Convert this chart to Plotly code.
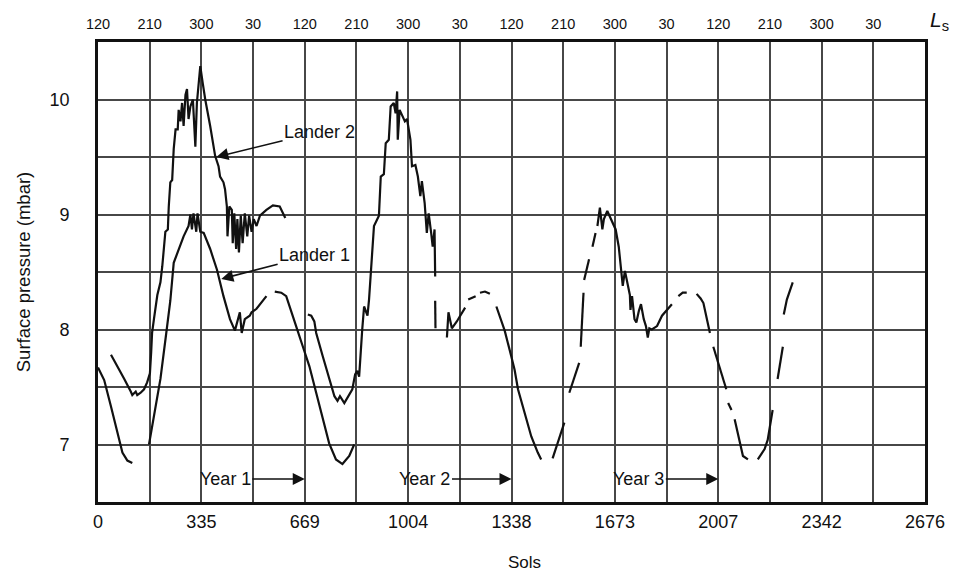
import plotly.graph_objects as go

# Surface pressure at the two Viking landers over three Mars years.
# None marks a break in the record (the trace is drawn with gaps there).

QUARTER = 669 / 4          # sols between successive Ls grid lines
N_QUARTERS = 16

sol_ticks = ["0", "335", "669", "1004", "1338", "1673", "2007", "2342", "2676"]
ls_ticks = ["120", "210", "300", "30"] * 4
pressure_ticks = [7, 8, 9, 10]

lander1_sol = [
    0, 20, 42, 63, 79, 95, 111, None,
    165, 181, 202, 220, 234, 245, 261, 277, 293, 299, 304, 309, 318, 322, 331, 342,
    363, 385, 406, 427, 443, 449, 459, 465, 475, 491, 497, 513, 529, 545, None,
    572, 593, 609, 631, 641, 663, 684, 706, 727, 748, 770, 791, 813, 829, None,
    1091, 1092, None,
    1129, 1134, 1145, 1161, 1188, None,
    1198, 1222, None,
    1236, 1252, 1268, None,
    1289, 1316, 1337, 1348, 1359, 1380, 1402, 1423, 1434, None,
    1471, 1487, 1509, None,
    1525, 1541, 1557, None,
    1562, 1571, None,
    1573, 1589, None,
    1600, 1610, None,
    1616, 1624, 1632, 1637, 1648, 1659, 1675, 1685, 1694, 1698, 1705, 1712, 1721,
    1723, 1728, 1736, 1742, 1750, 1757, 1766, 1773, 1779, 1784, 1792, 1809, 1825,
    1841, 1857, None,
    1878, 1892, 1905, None,
    1937, 1950, 1959, 1980, None,
    1991, 2012, 2033, None,
    2039, 2050, None,
    2060, 2082, 2087, 2103, None,
    2135, 2157, 2167, 2183, None,
    2199, 2216, None,
    2219, 2229, 2248,
]
lander1_mbar = [
    7.67, 7.56, 7.33, 7.10, 6.93, 6.86, 6.84, None,
    7.00, 7.25, 7.57, 7.95, 8.25, 8.58, 8.70, 8.81, 8.90, 9.00, 8.87, 9.01, 8.85, 9.01, 8.85, 8.84,
    8.70, 8.52, 8.29, 8.09, 7.99, 8.06, 8.15, 7.97, 8.09, 8.12, 8.15, 8.18, 8.23, 8.29, None,
    8.33, 8.32, 8.29, 8.12, 8.03, 7.85, 7.68, 7.45, 7.22, 7.01, 6.87, 6.83, 6.90, 7.00, None,
    8.25, 8.01, None,
    7.93, 8.15, 8.01, 8.07, 8.19, None,
    8.26, 8.29, None,
    8.32, 8.33, 8.31, None,
    8.20, 7.99, 7.77, 7.65, 7.48, 7.28, 7.07, 6.93, 6.87, None,
    6.88, 7.01, 7.19, None,
    7.45, 7.59, 7.71, None,
    7.85, 8.32, None,
    8.43, 8.61, None,
    8.72, 8.84, None,
    8.90, 9.06, 8.87, 8.96, 9.03, 8.97, 8.87, 8.72, 8.52, 8.38, 8.51, 8.43, 8.30,
    8.17, 8.29, 8.09, 8.06, 8.16, 8.22, 8.09, 8.03, 7.93, 8.01, 8.00, 8.03, 8.12,
    8.17, 8.22, None,
    8.29, 8.32, 8.32, None,
    8.31, 8.27, 8.23, 7.97, None,
    7.85, 7.66, 7.48, None,
    7.36, 7.30, None,
    7.22, 6.96, 6.90, 6.87, None,
    6.87, 6.96, 7.04, 7.30, None,
    7.57, 7.85, None,
    8.13, 8.26, 8.41,
]

lander2_sol = [
    42, 63, 85, 106, 111, 122, 127, 138, 149, 159, 168, 172, 175, 181, 192, 202, 208,
    218, 226, 229, 234, 240, 245, 251, 258, 261, 267, 272, 277, 283, 288, 293, 299,
    307, 315, 320, 325, 331, 339, 347, 363, 379, 390, 395, 406, 411, 417, 419, 425,
    433, 436, 441, 447, 451, 456, 462, 468, 475, 483, 489, 497, 504, 513, 524, 545,
    566, 588, 599, 606, None,
    679, 690, 700, 706, 727, 748, 765, 775, 783, 797, 807, 823, 832, 839, 845, 850,
    855, 861, 872, 877, 882, 888, 893, 909, 915, 925, 931, 941, 947, 957, 963, 968,
    970, 976, 984, 993, 1000, 1011, 1016, 1027, 1035, 1043, 1048, 1057, 1064, 1070,
    1078, 1083, 1089, 1091,
]
lander2_mbar = [
    7.78, 7.68, 7.57, 7.46, 7.43, 7.46, 7.43, 7.45, 7.48, 7.54, 7.62, 7.80, 7.97, 8.09, 8.30, 8.41, 8.55,
    8.85, 8.87, 9.07, 9.28, 9.30, 9.57, 9.74, 9.74, 9.91, 9.81, 9.97, 9.77, 10.04, 10.09, 9.83, 9.94,
    10.00, 9.59, 9.97, 10.09, 10.29, 10.14, 10.00, 9.77, 9.51, 9.42, 9.33, 9.28, 9.22, 9.07, 8.81, 9.07,
    9.04, 8.75, 9.01, 8.70, 8.96, 8.67, 8.99, 8.75, 9.01, 8.81, 8.99, 8.85, 8.96, 8.90, 8.99, 9.04,
    9.08, 9.07, 9.01, 8.97, None,
    8.13, 8.12, 8.07, 7.97, 7.77, 7.57, 7.42, 7.38, 7.42, 7.36, 7.41, 7.48, 7.61, 7.64, 7.59, 7.83,
    8.00, 8.20, 8.12, 8.26, 8.49, 8.67, 8.90, 8.99, 9.33, 9.35, 9.62, 9.65, 9.94, 9.97, 9.88, 10.07,
    9.65, 9.91, 9.86, 9.81, 9.83, 9.65, 9.42, 9.43, 9.33, 9.16, 9.29, 9.10, 8.84, 9.01,
    8.84, 8.72, 8.87, 8.46,
]

FONT = "Liberation Sans, Arial, sans-serif"
INK = "#111111"
GRID = "#474747"
SOL_MAX = QUARTER * N_QUARTERS

fig = go.Figure()
line_style = dict(color=INK, width=2.2)
fig.add_trace(go.Scatter(x=lander1_sol, y=lander1_mbar, mode="lines", name="Lander 1",
                         line=line_style, connectgaps=False, showlegend=False))
fig.add_trace(go.Scatter(x=lander2_sol, y=lander2_mbar, mode="lines", name="Lander 2",
                         line=line_style, connectgaps=False, showlegend=False))
# empty trace that carries the Ls axis along the top
fig.add_trace(go.Scatter(x=[], y=[], xaxis="x2", showlegend=False, hoverinfo="skip"))

sol_vals = [2 * QUARTER * k for k in range(len(sol_ticks))]
ls_vals = [QUARTER * k for k in range(len(ls_ticks))]

grid = dict(showgrid=True, gridcolor=GRID, gridwidth=1.6)

fig.update_layout(
    width=957, height=573,
    margin=dict(l=98, r=27, t=42, b=71),
    paper_bgcolor="white", plot_bgcolor="white",
    font=dict(family=FONT, color=INK, size=18),
    xaxis=dict(
        range=[0, SOL_MAX], tickmode="array", tickvals=sol_vals, ticktext=sol_ticks,
        zeroline=False, **grid,
        minor=dict(tick0=0, dtick=QUARTER, ticks="", **grid),
        showline=True, linecolor=INK, linewidth=2.6, mirror=True,
        ticks="", ticklabelstandoff=2, tickfont=dict(size=18),
    ),
    xaxis2=dict(
        overlaying="x", side="top", range=[0, SOL_MAX],
        tickmode="array", tickvals=ls_vals, ticktext=ls_ticks,
        showgrid=False, zeroline=False, showline=False,
        ticks="", ticklabelstandoff=9, tickfont=dict(size=14.5),
    ),
    yaxis=dict(
        range=[6.5, 10.5], tickmode="array", tickvals=pressure_ticks,
        ticktext=[str(v) for v in pressure_ticks],
        zeroline=False, **grid,
        minor=dict(tick0=6.5, dtick=0.5, ticks="", **grid),
        showline=True, linecolor=INK, linewidth=2.6, mirror=True,
        ticks="", ticklabelstandoff=22, tickfont=dict(size=18),
        title=dict(text="Surface pressure (mbar)", font=dict(size=18.5), standoff=15),
    ),
)

# axis captions
fig.add_annotation(text="Sols", xref="paper", yref="paper", x=0.516, y=-0.131,
                   xanchor="center", yanchor="middle", showarrow=False, font=dict(size=17))
fig.add_annotation(text="<i>L</i><sub>s</sub>", xref="paper", yref="paper", x=1.018, y=1.045,
                   xanchor="center", yanchor="middle", showarrow=False, font=dict(size=21))

arrow = dict(showarrow=True, arrowhead=2, arrowsize=1.5, arrowwidth=1.6, arrowcolor=INK,
             xref="x", yref="y", axref="x", ayref="y", standoff=0, font=dict(size=18))

# lander labels pointing at their curves
fig.add_annotation(text="Lander 2", x=383, y=9.50, ax=717, ay=9.72, **arrow)
fig.add_annotation(text="Lander 1", x=399, y=8.44, ax=701, ay=8.65, **arrow)

# year markers ending at each full Mars year
for label, end, tail in [("Year 1", 669, 412), ("Year 2", 1338, 1058), ("Year 3", 2007, 1750)]:
    fig.add_annotation(text=label, x=end, y=6.70, ax=tail, ay=6.70, **arrow)

fig.write_html("out.html")
